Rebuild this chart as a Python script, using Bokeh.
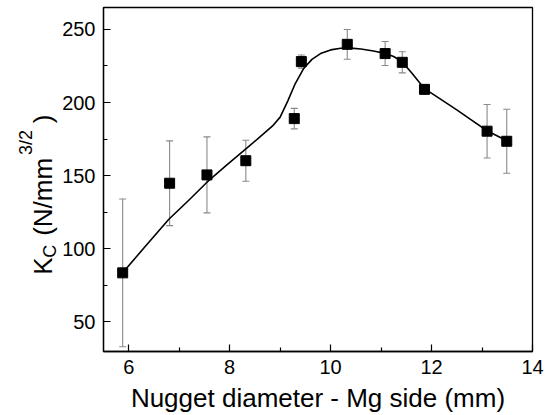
import math

from bokeh.plotting import figure
from bokeh.layouts import row
from bokeh.models import Range1d, ColumnDataSource, FixedTicker
from bokeh.core.properties import value
from bokeh.embed import file_html
from bokeh.resources import INLINE

# Fracture toughness vs nugget diameter (Mg side)
diameter = [5.88, 6.81, 7.55, 8.32, 9.28, 9.42, 10.33, 11.08, 11.42, 11.86, 13.10, 13.49]
kc = [83.5, 144.8, 150.5, 160.2, 189.0, 228.0, 239.8, 233.5, 227.5, 209.0, 180.4, 173.5]
kc_err = [50.5, 29.0, 26.0, 14.0, 7.0, 4.5, 10.2, 8.2, 7.2, 3.0, 18.3, 21.9]

# Smooth trend line
fit_x = [5.88, 6.30, 6.79, 7.20, 7.55, 7.95, 8.31, 8.60, 8.85, 9.00, 9.15, 9.30, 9.47,
         9.63, 9.80, 10.00, 10.20, 10.40, 10.60, 10.85, 11.08, 11.25, 11.41, 11.60, 11.86,
         12.20, 12.50, 12.80, 13.10, 13.49]
fit_y = [83.5, 100.5, 120.0, 133.5, 145.5, 157.5, 168.0, 176.5, 184.0, 190.0, 201.0, 213.0,
         223.5, 229.5, 233.5, 236.0, 237.1, 237.2, 236.6, 235.2, 233.6, 231.5, 228.0, 220.5,
         209.5, 201.8, 195.0, 187.8, 180.7, 173.9]

x_ticks = [6, 8, 10, 12, 14]
y_ticks = [50, 100, 150, 200, 250]

X_MIN, X_MAX = 5.5, 14.0
Y_MIN, Y_MAX = 29.7, 265.0

FONT = "Liberation Sans"
TITLE_W = 58          # width of the strip that carries the vertical axis title
H = 415
BORDER_TOP, BORDER_BOTTOM = 7, 63

p = figure(width=555 - TITLE_W, height=H, output_backend="svg", toolbar_location=None,
           x_range=Range1d(X_MIN, X_MAX), y_range=Range1d(Y_MIN, Y_MAX),
           min_border_left=103 - TITLE_W, min_border_right=23,
           min_border_top=BORDER_TOP, min_border_bottom=BORDER_BOTTOM)
p.background_fill_color = "white"
p.border_fill_color = "white"
p.xgrid.visible = False
p.ygrid.visible = False
p.outline_line_color = "black"
p.outline_line_width = 1.3

for ax in (p.xaxis[0], p.yaxis[0]):
    ax.axis_line_color = "black"
    ax.axis_line_width = 1.3
    ax.major_tick_in = 7
    ax.major_tick_out = 0
    ax.minor_tick_in = 4
    ax.minor_tick_out = 0
    ax.major_tick_line_color = "black"
    ax.minor_tick_line_color = "black"
    ax.major_tick_line_width = 1.2
    ax.minor_tick_line_width = 1.2
    ax.major_label_text_font = FONT
    ax.major_label_text_font_size = "20px"
    ax.major_label_text_color = "black"
    ax.major_label_standoff = 8

p.xaxis.ticker = FixedTicker(ticks=x_ticks, minor_ticks=[7, 9, 11, 13])
p.yaxis.ticker = FixedTicker(ticks=y_ticks, minor_ticks=[75, 125, 175, 225])

p.xaxis.axis_label = "Nugget diameter - Mg side (mm)"
p.xaxis.axis_label_text_font = FONT
p.xaxis.axis_label_text_font_size = "26px"
p.xaxis.axis_label_text_font_style = "normal"
p.xaxis.axis_label_text_color = "black"
p.xaxis.axis_label_standoff = 6

src = ColumnDataSource(dict(
    x=diameter, y=kc,
    lo=[v - e for v, e in zip(kc, kc_err)],
    hi=[v + e for v, e in zip(kc, kc_err)],
))

# error bars
p.segment(x0="x", y0="lo", x1="x", y1="hi", source=src, line_color="#8a8a8a", line_width=1.1)
p.scatter(x="x", y="lo", source=src, marker="dash", size=7, line_color="#8a8a8a", line_width=1.1)
p.scatter(x="x", y="hi", source=src, marker="dash", size=7, line_color="#8a8a8a", line_width=1.1)

# trend line
p.line(fit_x, fit_y, line_color="black", line_width=1.6, line_join="round")

# measured points
p.scatter(x="x", y="y", source=src, marker="square", size=10,
          fill_color="black", line_color="black")

# --- vertical axis title strip: K_C (N/mm^{3/2}) ---
# The row aligns this strip's frame with the main frame, so its y range is chosen
# such that one data unit equals one pixel measured from the canvas bottom.
t = figure(width=TITLE_W, height=H, output_backend="svg", toolbar_location=None,
           x_range=Range1d(0, TITLE_W), y_range=Range1d(BORDER_BOTTOM, H - BORDER_TOP),
           x_axis_location=None, y_axis_location=None,
           min_border_left=0, min_border_right=0,
           min_border_top=BORDER_TOP, min_border_bottom=BORDER_BOTTOM)
t.grid.visible = False
t.outline_line_color = None
t.background_fill_color = "white"
t.border_fill_color = "white"

# (text, font size px, baseline x px, start y px from top)
pieces = [("K", 26, 42, 275), ("C", 18, 49, 258), ("(N/mm", 26, 42, 236),
          ("3/2", 18, 25, 155), (")", 26, 42, 123)]
for txt, size, base, start in pieces:
    t.text(x=[base], y=[H - start], text=[txt], angle=math.pi / 2,
           text_align="left", text_baseline="alphabetic",
           text_font=value(FONT), text_font_size=value(f"{size}px"), text_color="black")

layout = row(t, p)
open("out.html", "w").write(file_html(layout, INLINE))
